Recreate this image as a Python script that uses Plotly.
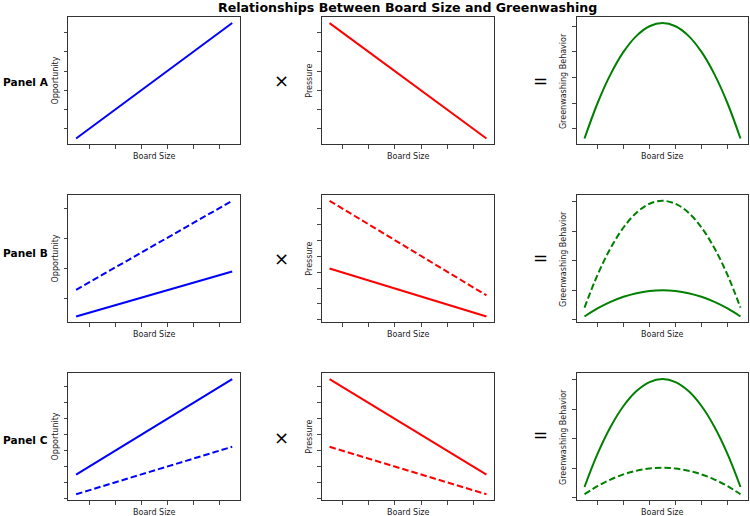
import plotly.graph_objects as go

# ---------------- data ----------------
board_size = [0.5, 1.0, 1.5, 2.0, 2.5, 3.0, 3.5, 4.0, 4.5, 5.0, 5.5, 6.0, 6.5]
board_ends = [0.5, 6.5]
board_ticks = [1, 2, 3, 4, 5, 6]

# Panel A
opp_a = [0.5, 6.5]
press_a = [6.5, 0.5]
green_a = [3.25, 6.0, 8.25, 10.0, 11.25, 12.0, 12.25, 12.0, 11.25, 10.0, 8.25, 6.0, 3.25]
opp_a_ticks = [1, 2, 3, 4, 5, 6]
press_a_ticks = [1, 2, 3, 4, 5, 6]
green_a_ticks = [4, 6, 8, 10, 12]

# Panel B
opp_b_solid = [0.39, 1.89]
opp_b_dashed = [1.28, 4.24]
press_b_solid = [2.115, 0.605]
press_b_dashed = [4.245, 1.27]
green_b_solid = [0.11, 0.382, 0.605, 0.778, 0.901, 0.975, 1.0, 0.975, 0.901, 0.778, 0.605, 0.382, 0.11]
green_b_dashed = [0.41, 1.518, 2.422, 3.125, 3.628, 3.929, 4.03, 3.929, 3.628, 3.125, 2.422, 1.518, 0.41]
opp_b_ticks = [1, 2, 3, 4]
press_b_ticks = [0.5, 1.0, 1.5, 2.0, 2.5, 3.0, 3.5, 4.0]
green_b_ticks = [0, 1, 2, 3, 4]

# Panel C
opp_c_solid = [1.25, 4.24]
opp_c_dashed = [0.635, 2.12]
press_c_solid = [4.24, 1.25]
press_c_dashed = [2.12, 0.635]
green_c_solid = [0.37, 1.487, 2.398, 3.108, 3.614, 3.919, 4.02, 3.919, 3.614, 3.108, 2.398, 1.487, 0.37]
green_c_dashed = [0.125, 0.399, 0.622, 0.796, 0.921, 0.995, 1.02, 0.995, 0.921, 0.796, 0.622, 0.399, 0.125]
opp_c_ticks = [0.5, 1.0, 1.5, 2.0, 2.5, 3.0, 3.5, 4.0]
press_c_ticks = [0.5, 1.0, 1.5, 2.0, 2.5, 3.0, 3.5, 4.0]
green_c_ticks = [0, 1, 2, 3, 4]

panel_names = ["Panel A", "Panel B", "Panel C"]
col_titles = ["Opportunity", "Pressure", "Greenwashing Behavior"]
x_title = "Board Size"
main_title = "Relationships Between Board Size and Greenwashing"

# ---------------- styling ----------------
W, H = 750, 516
FONT = "DejaVu Sans"
BLUE, RED, GREEN = "#0000ff", "#ff0000", "#008000"
DASH = "6.5px,3px"
LW = 2

col_px = [(68.3, 240.0), (321.7, 494.3), (576.7, 748.3)]
row_px = [(17.3, 144.3), (195.0, 322.3), (373.3, 500.0)]
panel_label_y = [81.5, 253.0, 440.0]
times_y = [80.5, 258.5, 437.0]
equal_y = [80.0, 257.5, 434.5]

def xdom(c):
    a, b = col_px[c]
    return [a / W, b / W]

def ydom(r):
    t, b = row_px[r]
    return [1 - b / H, 1 - t / H]

def pad(vals):
    lo, hi = min(vals), max(vals)
    d = (hi - lo) * 0.05
    return [lo - d, hi + d]

fig = go.Figure()

# (row, col, list of (x, y, color, dashed), yticks)
panels = [
    (0, 0, [(board_ends, opp_a, BLUE, False)], opp_a_ticks),
    (0, 1, [(board_ends, press_a, RED, False)], press_a_ticks),
    (0, 2, [(board_size, green_a, GREEN, False)], green_a_ticks),
    (1, 0, [(board_ends, opp_b_solid, BLUE, False), (board_ends, opp_b_dashed, BLUE, True)], opp_b_ticks),
    (1, 1, [(board_ends, press_b_solid, RED, False), (board_ends, press_b_dashed, RED, True)], press_b_ticks),
    (1, 2, [(board_size, green_b_solid, GREEN, False), (board_size, green_b_dashed, GREEN, True)], green_b_ticks),
    (2, 0, [(board_ends, opp_c_solid, BLUE, False), (board_ends, opp_c_dashed, BLUE, True)], opp_c_ticks),
    (2, 1, [(board_ends, press_c_solid, RED, False), (board_ends, press_c_dashed, RED, True)], press_c_ticks),
    (2, 2, [(board_size, green_c_solid, GREEN, False), (board_size, green_c_dashed, GREEN, True)], green_c_ticks),
]

annotations = []
for i, (r, c, series, yt) in enumerate(panels):
    n = i + 1
    xa = "x" if n == 1 else f"x{n}"
    ya = "y" if n == 1 else f"y{n}"
    allx, ally = [], []
    for xs, ys, col, dashed in series:
        fig.add_trace(go.Scatter(
            x=xs, y=ys, mode="lines", xaxis=xa, yaxis=ya, showlegend=False,
            line=dict(color=col, width=LW, dash=DASH if dashed else "solid",
                      shape="spline" if len(xs) > 2 else "linear"),
            hoverinfo="skip"))
        allx += xs
        ally += ys
    common = dict(showline=True, linecolor="#333333", linewidth=1, mirror=True,
                  ticks="outside", ticklen=3.5, tickwidth=1, tickcolor="#444444",
                  showticklabels=False, showgrid=False, zeroline=False, fixedrange=True)
    fig.layout[f"xaxis{'' if n == 1 else n}"] = dict(
        domain=xdom(c), anchor=ya, range=pad(allx), tickmode="array",
        tickvals=board_ticks, **common)
    fig.layout[f"yaxis{'' if n == 1 else n}"] = dict(
        domain=ydom(r), anchor=xa, range=pad(ally), tickmode="array",
        tickvals=yt, **common)

    # axis titles
    x0, x1 = col_px[c]
    t, b = row_px[r]
    annotations.append(dict(text=x_title, xref="paper", yref="paper",
                            x=(x0 + x1) / 2 / W, y=1 - (b + 12.3) / H,
                            xanchor="center", yanchor="middle", showarrow=False,
                            font=dict(family=FONT, size=8, color="#1a1a1a")))
    ylab_x = [55.8, 310.0, 563.3][c]
    annotations.append(dict(text=col_titles[c], xref="paper", yref="paper",
                            x=ylab_x / W, y=1 - (t + b) / 2 / H, textangle=-90,
                            xanchor="center", yanchor="middle", showarrow=False,
                            font=dict(family=FONT, size=8, color="#1a1a1a")))

for r in range(3):
    annotations.append(dict(text=f"<b>{panel_names[r]}</b>", xref="paper", yref="paper",
                            x=0.5 / W, y=1 - panel_label_y[r] / H, xanchor="left",
                            yanchor="middle", showarrow=False,
                            font=dict(family=FONT, size=10.6, color="black")))
    annotations.append(dict(text="×", xref="paper", yref="paper",
                            x=281.7 / W, y=1 - times_y[r] / H, xanchor="center",
                            yanchor="middle", showarrow=False,
                            font=dict(family=FONT, size=18, color="black")))
    annotations.append(dict(text="=", xref="paper", yref="paper",
                            x=540.5 / W, y=1 - equal_y[r] / H, xanchor="center",
                            yanchor="middle", showarrow=False,
                            font=dict(family=FONT, size=18, color="black")))

annotations.append(dict(text=f"<b>{main_title}</b>", xref="paper", yref="paper",
                        x=407.5 / W, y=1 - 7.0 / H, xanchor="center", yanchor="middle",
                        showarrow=False, font=dict(family=FONT, size=12.6, color="black")))

fig.update_layout(width=W, height=H, margin=dict(l=0, r=0, t=0, b=0),
                  paper_bgcolor="white", plot_bgcolor="white",
                  annotations=annotations, font=dict(family=FONT))

fig.write_html("out.html")
